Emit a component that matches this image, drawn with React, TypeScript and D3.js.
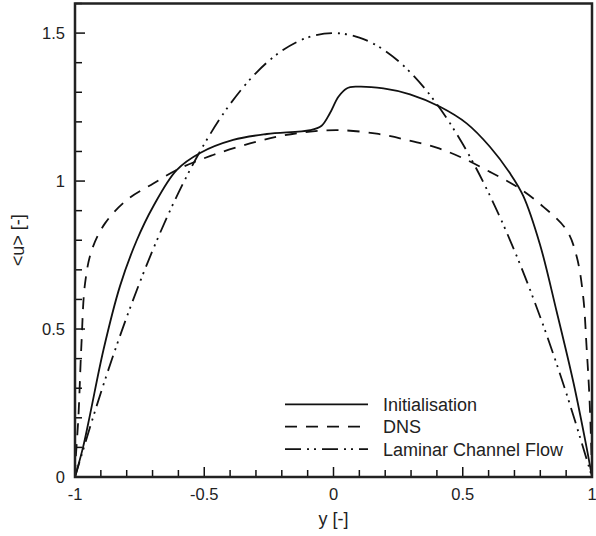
import React, { useEffect, useRef } from 'react';
import * as d3 from 'd3';

// values
const initY = [-1, -0.969, -0.942, -0.89, -0.826, -0.761, -0.697, -0.607, -0.516, -0.388, -0.258, -0.09, -0.046, -0.014, 0.019, 0.051, 0.09, 0.193, 0.296, 0.412, 0.515, 0.605, 0.683, 0.734, 0.799, 0.863, 0.928, 0.979, 1];
const initU = [0, 0.1, 0.21, 0.429, 0.645, 0.8, 0.915, 1.037, 1.095, 1.139, 1.159, 1.172, 1.187, 1.229, 1.285, 1.313, 1.319, 1.313, 1.293, 1.251, 1.195, 1.116, 1.026, 0.95, 0.785, 0.56, 0.32, 0.1, 0];

const dnsY = [-1, -0.998, -0.987, -0.975, -0.961, -0.935, -0.884, -0.8, -0.697, -0.594, -0.466, -0.323, -0.207, -0.09, 0.025, 0.167, 0.283, 0.399, 0.502, 0.605, 0.709, 0.812, 0.902, 0.941, 0.966, 0.979, 0.99, 0.999, 1];
const dnsU = [0, 0.05, 0.2, 0.45, 0.655, 0.767, 0.857, 0.936, 0.992, 1.043, 1.088, 1.127, 1.152, 1.167, 1.172, 1.16, 1.139, 1.113, 1.077, 1.031, 0.981, 0.913, 0.834, 0.744, 0.609, 0.44, 0.271, 0.046, 0];

const lamY = [-1, -0.9, -0.8, -0.7, -0.6, -0.5, -0.4, -0.3, -0.2, -0.1, 0, 0.1, 0.2, 0.3, 0.4, 0.5, 0.6, 0.7, 0.8, 0.9, 1];
const lamU = [0, 0.285, 0.54, 0.765, 0.96, 1.125, 1.26, 1.365, 1.44, 1.485, 1.5, 1.485, 1.44, 1.365, 1.26, 1.125, 0.96, 0.765, 0.54, 0.285, 0];

const xTickLabels = ['-1', '-0.5', '0', '0.5', '1'];
const yTickLabels = ['0', '0.5', '1', '1.5'];

const seriesNames = ['Initialisation', 'DNS', 'Laminar Channel Flow'];
const dashes = [null, '12,9', '16,6,2,5,2,6'];

const FONT = '"Liberation Sans", Arial, Helvetica, sans-serif';

const App = () => {
  const svgRef = useRef(null);
  const width = 596;
  const height = 536;

  useEffect(() => {
    const svg = d3.select(svgRef.current);
    svg.selectAll('*').remove();

    const margin = { top: 3.5, right: 4, bottom: 59, left: 75 };
    const x = d3.scaleLinear().domain([-1, 1]).range([margin.left, width - margin.right]);
    const y = d3.scaleLinear().domain([0, 1.6]).range([height - margin.bottom, margin.top]);

    const series = [
      { name: seriesNames[0], ys: initY, us: initU, dash: dashes[0] },
      { name: seriesNames[1], ys: dnsY, us: dnsU, dash: dashes[1] },
      { name: seriesNames[2], ys: lamY, us: lamU, dash: dashes[2] },
    ];

    const line = d3
      .line()
      .x((d) => x(d[0]))
      .y((d) => y(d[1]))
      .curve(d3.curveCatmullRom.alpha(0.5));

    const g = svg.append('g');

    series.forEach((s) => {
      g.append('path')
        .datum(s.ys.map((v, i) => [v, s.us[i]]))
        .attr('d', line)
        .attr('fill', 'none')
        .attr('stroke', '#111')
        .attr('stroke-width', 1.8)
        .attr('stroke-dasharray', s.dash);
    });

    // inward ticks, minor every 0.1
    const isMajor = (v) => Math.abs(v * 2 - Math.round(v * 2)) < 1e-6;
    x.ticks(20).forEach((v) => {
      g.append('line')
        .attr('x1', x(v)).attr('x2', x(v))
        .attr('y1', y(0)).attr('y2', y(0) - (isMajor(v) ? 10 : 7))
        .attr('stroke', '#111').attr('stroke-width', 1.5);
    });
    y.ticks(16).forEach((v) => {
      g.append('line')
        .attr('x1', x(-1)).attr('x2', x(-1) + (isMajor(v) ? 10 : 7))
        .attr('y1', y(v)).attr('y2', y(v))
        .attr('stroke', '#111').attr('stroke-width', 1.5);
    });

    // frame
    g.append('rect')
      .attr('x', x(-1)).attr('y', y(1.6))
      .attr('width', x(1) - x(-1)).attr('height', y(0) - y(1.6))
      .attr('fill', 'none').attr('stroke', '#222').attr('stroke-width', 2.5);

    // tick labels
    g.selectAll('.xl')
      .data(xTickLabels)
      .join('text')
      .attr('x', (d) => x(+d))
      .attr('y', y(0) + 23)
      .attr('text-anchor', 'middle')
      .attr('font-family', FONT).attr('font-size', 16.5).attr('fill', '#222')
      .text((d) => d);

    g.selectAll('.yl')
      .data(yTickLabels)
      .join('text')
      .attr('x', x(-1) - 10)
      .attr('y', (d) => y(+d) + 6)
      .attr('text-anchor', 'end')
      .attr('font-family', FONT).attr('font-size', 16.5).attr('fill', '#222')
      .text((d) => d);

    // axis titles
    g.append('text')
      .attr('x', x(0)).attr('y', 525)
      .attr('text-anchor', 'middle')
      .attr('font-family', FONT).attr('font-size', 18).attr('fill', '#222')
      .text('y [-]');

    g.append('text')
      .attr('transform', `translate(24,${(y(0) + y(1.6)) / 2}) rotate(-90)`)
      .attr('text-anchor', 'middle')
      .attr('font-family', FONT).attr('font-size', 18).attr('fill', '#222')
      .text('<u> [-]');

    // legend
    const leg = g.append('g');
    series.forEach((s, i) => {
      const ly = 404.3 + i * 22.4;
      leg.append('line')
        .attr('x1', 285).attr('x2', 368)
        .attr('y1', ly).attr('y2', ly)
        .attr('stroke', '#111').attr('stroke-width', 1.8)
        .attr('stroke-dasharray', s.dash);
      leg.append('text')
        .attr('x', 383).attr('y', ly + 6.5)
        .attr('font-family', FONT).attr('font-size', 18).attr('fill', '#222')
        .text(s.name);
    });
  }, []);

  return (
    <svg
      ref={svgRef}
      width={width}
      height={height}
      style={{ position: 'absolute', left: 0, top: 0, background: '#fff' }}
    />
  );
};

export default App;
